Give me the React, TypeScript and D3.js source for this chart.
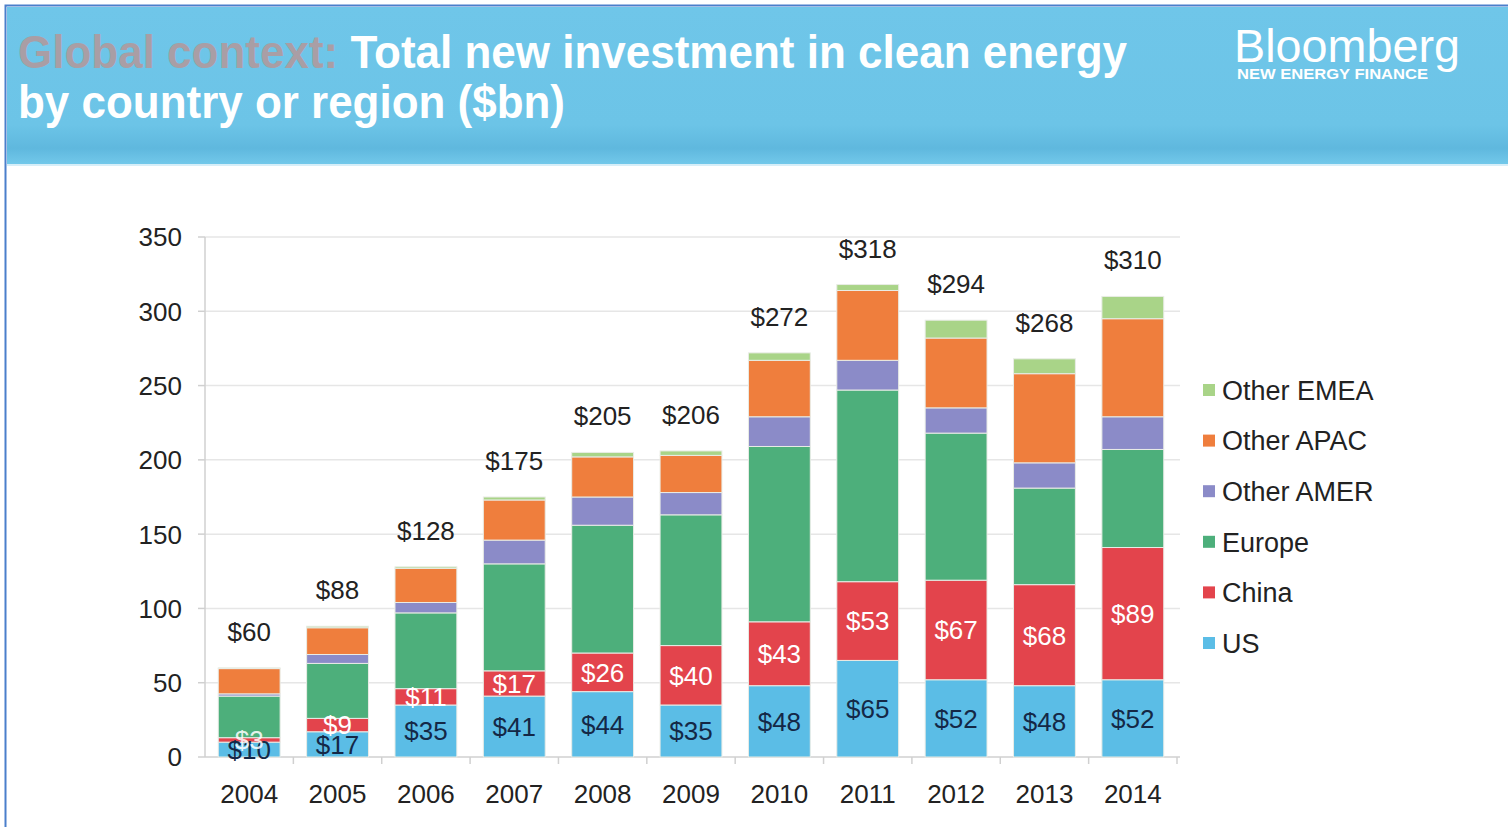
import React from 'react';
import * as d3 from 'd3';

const years = ['2004', '2005', '2006', '2007', '2008', '2009', '2010', '2011', '2012', '2013', '2014'];
const us = [10, 17, 35, 41, 44, 35, 48, 65, 52, 48, 52];
const china = [3, 9, 11, 17, 26, 40, 43, 53, 67, 68, 89];
const europe = [28, 37, 51, 72, 86, 88, 118, 129, 99, 65, 66];
const otherAmer = [1.5, 6, 7, 16, 19, 15, 20, 20, 17, 17, 22];
const otherApac = [17, 18, 23, 27, 27, 25, 38, 47, 47, 60, 66];
const otherEmea = [0.5, 1, 1, 2, 3, 3, 5, 4, 12, 10, 15];
const totals = [60, 88, 128, 175, 205, 206, 272, 318, 294, 268, 310];
const yTicks = [0, 50, 100, 150, 200, 250, 300, 350];

const keys = ['US', 'China', 'Europe', 'Other AMER', 'Other APAC', 'Other EMEA'];
const colors: Record<string, string> = {
  'US': '#5bbde6',
  'China': '#e3444c',
  'Europe': '#4daf7b',
  'Other AMER': '#8b8bc8',
  'Other APAC': '#ef7e3d',
  'Other EMEA': '#a9d488',
};

const rows = years.map((year, i) => ({
  year,
  'US': us[i],
  'China': china[i],
  'Europe': europe[i],
  'Other AMER': otherAmer[i],
  'Other APAC': otherApac[i],
  'Other EMEA': otherEmea[i],
}));

const left = 205;
const right = 1177;
const top = 237;
const bottom = 757;
const font = 'Arial, "Liberation Sans", Helvetica, sans-serif';

export default function App() {
  const x = d3.scaleBand<string>().domain(years).range([left, right]).paddingInner(0.3).paddingOuter(0.15);
  const y = d3.scaleLinear().domain([0, 350]).range([bottom, top]);
  const series = d3.stack<any>().keys(keys)(rows);
  const step = x.step();

  return (
    <svg width={1508} height={827} style={{ position: 'absolute', left: 0, top: 0, background: '#fff' }}>
      <defs>
        <linearGradient id="hdr" x1="0" y1="0" x2="0" y2="1">
          <stop offset="0" stopColor="#6fc6e9" />
          <stop offset="0.75" stopColor="#6cc4e7" />
          <stop offset="0.9" stopColor="#5fb8de" />
          <stop offset="1" stopColor="#72c8ea" />
        </linearGradient>
      </defs>
      {/* frame + header */}
      <rect x={5.5} y={5.5} width={1510} height={830} fill="none" stroke="#4b7fcb" strokeWidth={2} />
      <rect x={7} y={7} width={1501} height={157} fill="url(#hdr)" />
      <line x1={7} x2={1508} y1={165} y2={165} stroke="#d6eef8" strokeWidth={2} />
      <text x={18} y={68} fontFamily={font} fontWeight="bold" fontSize={46} textLength={1109} lengthAdjust="spacingAndGlyphs">
        <tspan fill="#a99ea5">Global context: </tspan>
        <tspan fill="#ffffff">Total new investment in clean energy</tspan>
      </text>
      <text x={18} y={118} fontFamily={font} fontWeight="bold" fontSize={46} fill="#ffffff" textLength={547} lengthAdjust="spacingAndGlyphs">
        by country or region ($bn)
      </text>
      <text x={1234} y={62} fontFamily={font} fontSize={46} fill="#ffffff" textLength={226} lengthAdjust="spacingAndGlyphs">Bloomberg</text>
      <text x={1237} y={79} fontFamily={font} fontWeight="bold" fontSize={14} fill="#ffffff" textLength={191} lengthAdjust="spacingAndGlyphs">NEW ENERGY FINANCE</text>

      {/* grid + y axis */}
      {yTicks.map((t) => (
        <g key={t}>
          {t > 0 && <line x1={left} x2={right + 3} y1={y(t)} y2={y(t)} stroke="#e6e6e6" strokeWidth={1.5} />}
          <line x1={left - 7} x2={left} y1={y(t)} y2={y(t)} stroke="#d0d0d0" strokeWidth={1.5} />
          <text x={182} y={y(t)} dy="0.36em" textAnchor="end" fontFamily={font} fontSize={26} fill="#222">{t}</text>
        </g>
      ))}
      <line x1={left} x2={left} y1={top} y2={bottom} stroke="#d0d0d0" strokeWidth={1.5} />
      <line x1={left} x2={right + 3} y1={bottom} y2={bottom} stroke="#d0d0d0" strokeWidth={1.5} />
      {years.map((yr, i) => (
        <line key={'t' + yr} x1={left + step * (i + 1.15) - step * 0.15} x2={left + step * (i + 1.15) - step * 0.15} y1={bottom} y2={bottom + 7} stroke="#d0d0d0" strokeWidth={1.5} />
      ))}

      {/* bars */}
      {series.map((s) => (
        <g key={s.key} fill={colors[s.key]}>
          {s.map((d, i) => (
            <rect key={i} x={x(years[i])} width={x.bandwidth()} y={y(d[1])} height={y(d[0]) - y(d[1])} stroke="#e9ece6" strokeWidth={1} />
          ))}
        </g>
      ))}

      {/* segment labels */}
      {series.slice(0, 2).map((s) => (
        <g key={'l' + s.key}>
          {s.map((d, i) => (
            <text key={i} x={(x(years[i]) as number) + x.bandwidth() / 2} y={y((d[0] + d[1]) / 2)} dy="0.36em" textAnchor="middle" fontFamily={font} fontSize={26}
              fill={s.key === 'US' ? '#142846' : '#ffffff'} fillOpacity={s.key === 'China' && i === 0 ? 0.85 : 1}>
              ${d[1] - d[0]}
            </text>
          ))}
        </g>
      ))}

      {/* totals */}
      {totals.map((t, i) => (
        <text key={'tot' + i} x={(x(years[i]) as number) + x.bandwidth() / 2} y={y(t) - 27} textAnchor="middle" fontFamily={font} fontSize={26} fill="#222">${t}</text>
      ))}

      {/* x labels */}
      {years.map((yr) => (
        <text key={'x' + yr} x={(x(yr) as number) + x.bandwidth() / 2} y={803} textAnchor="middle" fontFamily={font} fontSize={26} fill="#222">{yr}</text>
      ))}

      {/* legend */}
      {keys.slice().reverse().map((k, i) => (
        <g key={'lg' + k} transform={`translate(1203, ${390 + i * 50.6})`}>
          <rect x={0} y={-6} width={12} height={12} fill={colors[k]} />
          <text x={19} y={0} dy="0.36em" fontFamily={font} fontSize={27} fill="#222">{k}</text>
        </g>
      ))}
    </svg>
  );
}
